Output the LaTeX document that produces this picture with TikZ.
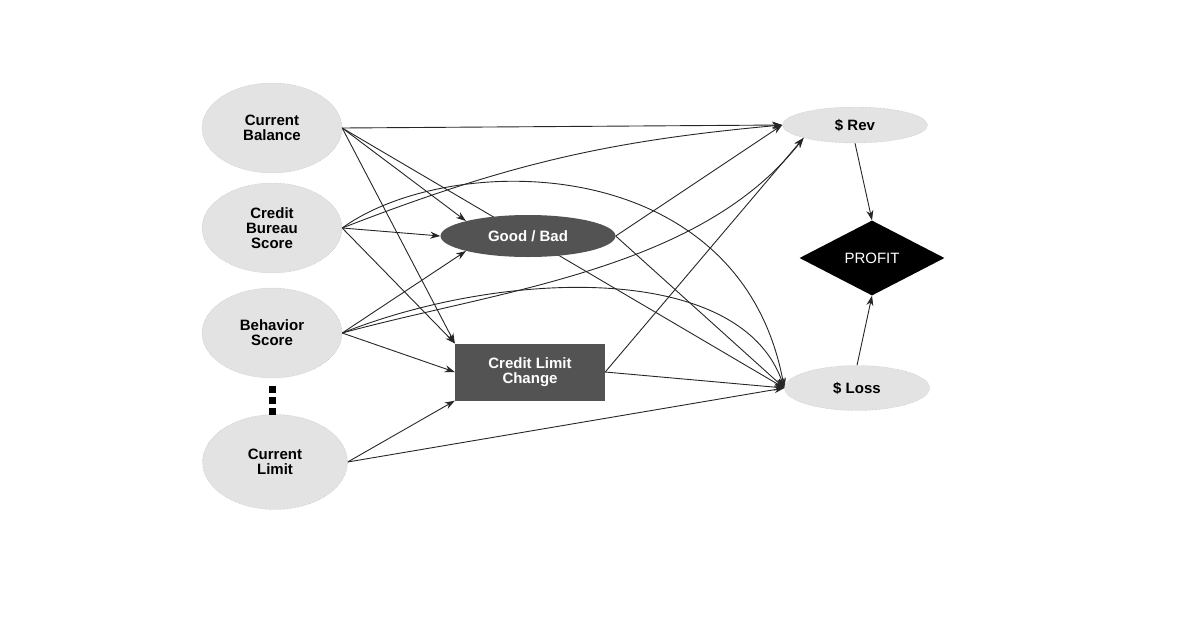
\documentclass[tikz,border=0pt]{standalone}
\usepackage{fontspec}
\setmainfont{Liberation Sans}
\usetikzlibrary{shapes.geometric,arrows.meta,backgrounds}
\begin{document}
\begin{tikzpicture}[x=1pt,y=-1pt,
  stip/.style={ellipse,draw=gray!60,densely dotted,fill=gray!22,font=\bfseries\fontsize{15}{15}\selectfont,align=center,inner sep=0pt},
  dark/.style={fill=gray!65!black,text=white,font=\bfseries\fontsize{15}{15}\selectfont,align=center,inner sep=0pt},
  ar/.style={-{Stealth[length=10pt,width=7pt]},line width=0.9pt,black!85}]
\useasboundingbox (0,0) rectangle (1200,630);
\node[stip,minimum width=140,minimum height=90] (cb) at (272,128) {Current\\Balance};
\node[stip,minimum width=140,minimum height=90] (cbs) at (272,228) {Credit\\Bureau\\Score};
\node[stip,minimum width=140,minimum height=90] (bs) at (272,333) {Behavior\\Score};
\node[stip,minimum width=145,minimum height=95] (cl) at (275,462) {Current\\Limit};
\foreach \y/\n in {389/d1,400/d2,411/d3} \node[fill=black,minimum size=7,inner sep=0] (\n) at (272,\y) {};
\node[dark,ellipse,minimum width=175,minimum height=42] (gb) at (528,236) {Good / Bad};
\node[dark,rectangle,minimum width=150,minimum height=57] (clc) at (530,372) {Credit Limit\\Change};
\node[stip,minimum width=145,minimum height=36] (rev) at (855,125) {\$ Rev};
\node[stip,minimum width=145,minimum height=45] (loss) at (857,388) {\$ Loss};
\node[diamond,fill=black,text=white,minimum width=145,minimum height=75,aspect=2,inner sep=0,font=\fontsize{15}{15}\selectfont] (pf) at (872,258) {PROFIT};
\begin{scope}[on background layer]
\draw[ar] (cb.east) -- (rev.west);
\draw[ar] (cb.east) -- (gb.north west);
\draw[ar] (cb.east) -- (clc.north west);
\draw[ar] (cb.east) -- (loss.west);
\draw[ar] (cbs.east) to[bend left=8] (rev.west);
\draw[ar] (cbs.east) -- (gb.west);
\draw[ar] (cbs.east) -- (clc.north west);
\draw[ar] (cbs.east) .. controls (450,150) and (740,150) .. (loss.west);
\draw[ar] (bs.east) -- (gb.south west);
\draw[ar] (bs.east) -- (clc.west);
\draw[ar] (bs.east) .. controls (500,290) and (700,270) .. (rev.south west);
\draw[ar] (bs.east) .. controls (500,270) and (740,260) .. (loss.west);
\draw[ar] (cl.east) -- (clc.south west);
\draw[ar] (cl.east) -- (loss.west);
\draw[ar] (gb.east) -- (rev.west);
\draw[ar] (gb.east) -- (loss.west);
\draw[ar] (clc.east) -- (rev.south west);
\draw[ar] (clc.east) -- (loss.west);
\draw[ar] (rev.south) -- (pf.north);
\draw[ar] (loss.north) -- (pf.south);
\end{scope}
\end{tikzpicture}
\end{document}
